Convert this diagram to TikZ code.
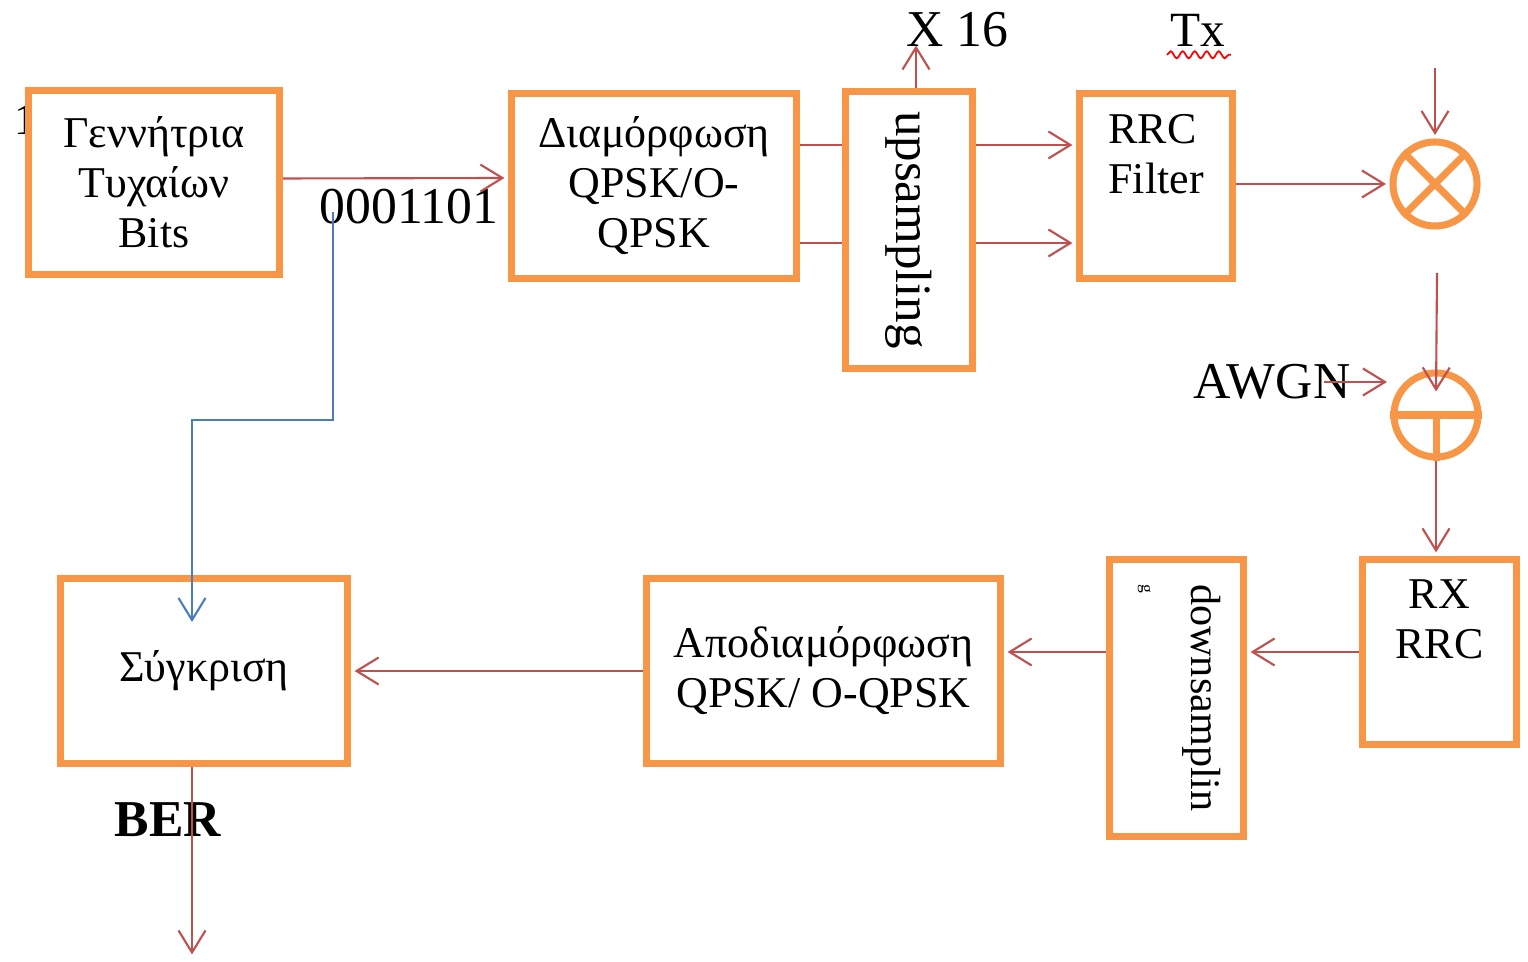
\documentclass[tikz,border=0pt]{standalone}
\usepackage{fontspec}
\setmainfont{Liberation Serif}
\usetikzlibrary{arrows.meta, positioning, calc, decorations.pathmorphing}
\definecolor{boxorange}{HTML}{F79646}
\definecolor{sigred}{HTML}{C0504D}
\definecolor{bitblue}{HTML}{4A7EBB}

\begin{document}
\begin{tikzpicture}[x=0.01cm, y=-0.01cm,
  every node/.style={inner sep=0pt, font=\fontsize{12.5pt}{0.5cm}\selectfont},
  block/.style={draw=boxorange, line width=2pt, fill=white, align=center},
  mix/.style={circle, draw=boxorange, line width=2pt, minimum size=0.84cm},
  lbl/.style={font=\fontsize{14.7pt}{17pt}\selectfont},
  sig/.style={draw=sigred, line width=0.6pt},
  sigar/.style={sig, shorten >=1pt, -{Straight Barb[length=2.2mm, width=2.7mm]}}]
  \useasboundingbox (0,0) rectangle (1528,962);

  % transmitter
  \node (frag) at (25,120) {1};
  \node[block, minimum width=2.51cm, minimum height=1.84cm] (gen) at (154,182.5) {Γεννήτρια\\Τυχαίων\\Bits};
  \node[lbl] (bits) at (409,207) {0001101};
  \node[block, minimum width=2.85cm, minimum height=1.85cm] (mod) at (654,186) {Διαμόρφωση\\QPSK/O-\\QPSK};
  \node[block, minimum width=1.27cm, minimum height=2.77cm] (up) at (909,230) {\rotatebox{-90}{\fontsize{14.5pt}{17pt}\selectfont upsampling}};
  \node[lbl] (x16) at (957,30) {X 16};
  \node[lbl, font=\fontsize{14pt}{17pt}\selectfont] (tx) at (1198,30) {Tx};
  \node[block, align=left, minimum width=1.53cm, minimum height=1.85cm] (rrc) at (1156,186) {RRC\\Filter\\\strut};
  \node[mix] (mult) at (1435,184) {};
  \node[mix] (add) at (1436,415) {};
  \node[lbl] (awgn) at (1272,382) {AWGN};

  % receiver
  \node[block, minimum width=1.54cm, minimum height=1.85cm] (rx) at (1439.5,652) {RX\\RRC\\\strut};
  \node[block, minimum width=1.34cm, minimum height=2.77cm] (down) at (1176.5,698) {\rotatebox{-90}{\fontsize{12pt}{0.5cm}\selectfont\begin{tabular}{@{}l@{}}downsamplin\\{\tiny g}\end{tabular}}};
  \node[block, minimum width=3.54cm, minimum height=1.85cm] (demod) at (823.5,671) {Αποδιαμόρφωση\\QPSK/ O-QPSK};
  \node[block, minimum width=2.87cm, minimum height=1.85cm] (cmp) at (204,671) {Σύγκριση};
  \node[lbl, font=\fontsize{14.7pt}{17pt}\selectfont\bfseries] (ber) at (168,820) {BER};

  \coordinate (bitsTap) at (333,212);
  \coordinate (cmpTip) at (192,622);
  \coordinate (x16tip) at (916,42);
  \coordinate (loIn) at (1435,68);
  \coordinate (chanTop) at (1437,273);
  \coordinate (berOut) at (192,958);

  \draw[boxorange, line width=2pt] (mult.north west) -- (mult.south east) (mult.north east) -- (mult.south west);
  \draw[boxorange, line width=2pt] (add.west) -- (add.east) (add.center) -- (add.south);
  \draw[red, line width=0.5pt, decorate, decoration={snake, amplitude=0.35mm, segment length=1.2mm}] ($(tx.south west)+(-3,8)$) -- ($(tx.south east)+(5,8)$);

  \draw[sigar] ($(gen.east)+(0,-4)$) -- ($(mod.west)+(0,-8)$);
  \draw[sig] ($(mod.east)+(0,-41)$) -- ($(up.west)+(0,-85)$);
  \draw[sig] ($(mod.east)+(0,57)$) -- ($(up.west)+(0,13)$);
  \draw[sigar] ($(up.north)+(7,0)$) -- (x16tip);
  \draw[sigar] ($(up.east)+(0,-85)$) -- ($(rrc.west)+(0,-41)$);
  \draw[sigar] ($(up.east)+(0,13)$) -- ($(rrc.west)+(0,57)$);
  \draw[sigar] (rrc.east |- mult.west) -- (mult.west);
  \draw[sigar] (loIn) -- (mult.north);
  \draw[sigar] (chanTop) -- ($(add.center)+(0,-20)$);
  \draw[sigar] ($(awgn.east)+(-27,0)$) -- (awgn.east -| add.west);
  \draw[sigar] (add.south) -- (add.south |- rx.north);
  \draw[sigar] (rx.west) -- (rx.west -| down.east);
  \draw[sigar] (down.west |- rx.west) -- (demod.east |- rx.west);
  \draw[sigar] (demod.west) -- (cmp.east);
  \draw[sigar] ($(cmp.south)+(-12,0)$) -- (berOut);
  % reference bits to the comparison
  \draw[bitblue, line width=0.6pt, -{Straight Barb[length=2.2mm, width=2.7mm]}] (bitsTap) -- ++(0,208) -| (cmpTip);
\end{tikzpicture}
\end{document}
